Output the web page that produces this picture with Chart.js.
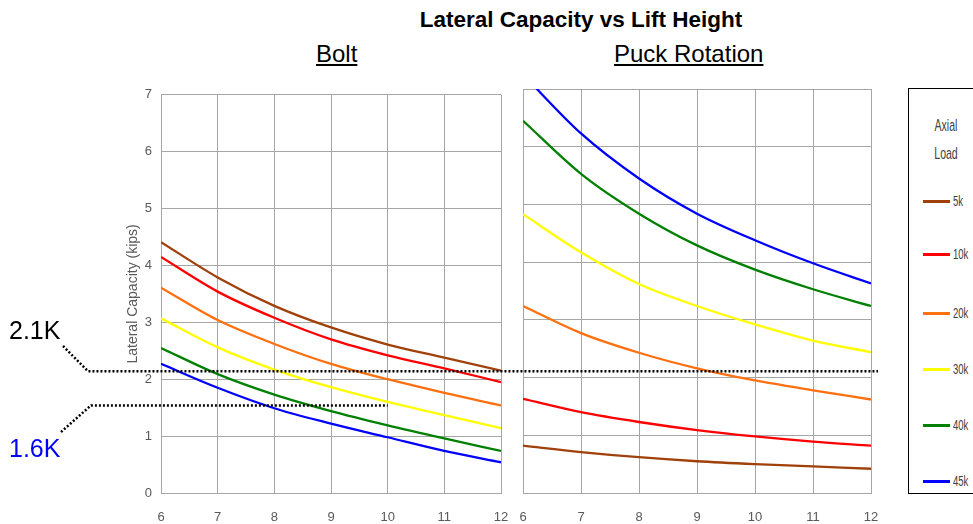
<!DOCTYPE html>
<html>
<head>
<meta charset="utf-8">
<script src="https://cdn.jsdelivr.net/npm/chart.js@4"></script>
<style>
  body { margin: 0; width: 973px; height: 524px; position: relative; overflow: hidden; background: #fff; font-family: "Liberation Sans", Arial, sans-serif; }
  .abs { position: absolute; }
  #title { left: 0; width: 1162px; top: 7px; text-align: center; font-weight: bold; font-size: 22.5px; color: #000; }
  .sub { top: 40px; font-size: 24px; text-decoration: underline; color: #000; }
  #legend { left: 908px; top: 88px; width: 90px; height: 406px; border: 1px solid #000; box-sizing: border-box; color: #404040; }
  #legend .head { position: absolute; left: 0; width: 74px; text-align: center; font-size: 17px; line-height: 20px; transform: scaleX(0.62); transform-origin: 37px 0; }
  #legend .item { position: absolute; left: 14px; height: 14px; }
  #legend .item span.sw { position: absolute; left: 0; top: 6px; width: 27px; height: 3px; }
  #legend .item span.tx { position: absolute; left: 30px; top: -1px; line-height: 16px; font-size: 14px; transform: scaleX(0.68); transform-origin: 0 0; white-space: nowrap; }
  .ann { font-size: 25px; left: 9px; }
</style>
</head>
<body>
<div id="title" class="abs">Lateral Capacity vs Lift Height</div>
<div class="abs sub" style="left:316px">Bolt</div>
<div class="abs sub" style="left:614px">Puck Rotation</div>
<canvas id="bolt" class="abs" style="left:100px;top:78px"></canvas>
<canvas id="puck" class="abs" style="left:515px;top:78px"></canvas>
<div id="legend" class="abs"></div>
<canvas id="overlay" class="abs" width="973" height="524" style="left:0;top:0;pointer-events:none"></canvas>
<div class="abs ann" style="top:316px;color:#000">2.1K</div>
<div class="abs ann" style="top:434px;color:#0000ff">1.6K</div>
<script>
const liftHeight = [6, 7, 8, 9, 10, 11, 12];
const loadNames = ["5k", "10k", "20k", "30k", "40k", "45k"];
const loadColors = ["#a0400a", "#ff0000", "#ff7010", "#ffff00", "#008000", "#0000ff"];

// Bolt, lateral capacity (kips)
const bolt5k  = [4.41, 3.79, 3.29, 2.91, 2.61, 2.38, 2.15];
const bolt10k = [4.15, 3.54, 3.08, 2.70, 2.42, 2.19, 1.95];
const bolt20k = [3.61, 3.04, 2.62, 2.27, 2.00, 1.76, 1.54];
const bolt30k = [3.07, 2.56, 2.17, 1.86, 1.60, 1.37, 1.14];
const bolt40k = [2.55, 2.09, 1.73, 1.44, 1.19, 0.96, 0.74];
const bolt45k = [2.27, 1.85, 1.49, 1.22, 0.98, 0.74, 0.54];

// Puck rotation, lateral capacity (kips)
const puck5k  = [0.82, 0.71, 0.62, 0.55, 0.50, 0.46, 0.42];
const puck10k = [1.63, 1.40, 1.23, 1.09, 0.98, 0.89, 0.82];
const puck20k = [3.24, 2.77, 2.43, 2.16, 1.95, 1.78, 1.62];
const puck30k = [4.83, 4.17, 3.62, 3.24, 2.92, 2.64, 2.44];
const puck40k = [6.45, 5.53, 4.84, 4.29, 3.87, 3.53, 3.24];
const puck45k = [7.25, 6.23, 5.45, 4.84, 4.38, 3.98, 3.63];

// reference lines (kips)
const refHigh = 2.14, refLow = 1.54;

const boltSeries = [bolt5k, bolt10k, bolt20k, bolt30k, bolt40k, bolt45k];
const puckSeries = [puck5k, puck10k, puck20k, puck30k, puck40k, puck45k];

const gridColor = "#a6a6a6";
const tickFont = { family: "'Liberation Sans Narrow', 'Liberation Sans'", size: 13 };

function makeChart(id, w, series, showY) {
  const c = document.getElementById(id);
  c.width = w; c.height = 446;
  c.style.width = w + "px"; c.style.height = "446px";
  return new Chart(c, {
    type: "line",
    data: {
      datasets: series.map((s, i) => ({
        label: loadNames[i],
        data: s.map((v, j) => ({ x: liftHeight[j], y: v })),
        borderColor: loadColors[i],
        borderWidth: 2.3,
        pointRadius: 0,
        cubicInterpolationMode: "monotone",
        fill: false,
      })),
    },
    options: {
      responsive: false,
      animation: false,
      layout: { padding: { top: 11, right: 9, left: 0, bottom: 0 } },
      plugins: { legend: { display: false }, tooltip: { enabled: false } },
      scales: {
        x: {
          type: "linear", min: 6, max: 12,
          ticks: { stepSize: 1, font: tickFont, color: "#595959", padding: 1, maxRotation: 0 },
          grid: { color: gridColor, drawTicks: true, tickLength: 16, tickColor: "rgba(0,0,0,0)", lineWidth: 1 },
          border: { color: gridColor },
          afterFit: (s) => { s.height = 31; },
        },
        y: {
          min: 0, max: 7,
          ticks: { stepSize: 1, display: showY, font: tickFont, color: "#595959", padding: 9 },
          grid: { color: gridColor, drawTicks: false, lineWidth: 1 },
          border: { color: gridColor },
          title: { display: showY, text: "Lateral Capacity (kips)", color: "#595959",
                   font: { family: "Liberation Sans", size: 14 }, padding: { top: 25, bottom: 0 } },
          afterFit: (s) => { s.width = showY ? 61 : 8; },
        },
      },
    },
  });
}

const boltChart = makeChart("bolt", 410, boltSeries, true);
const puckChart = makeChart("puck", 365, puckSeries, false);

// legend
const lg = document.getElementById("legend");
lg.innerHTML = '<div class="head" style="top:27px">Axial</div><div class="head" style="top:55px">Load</div>';
const itemTops = [105, 158, 217, 273, 329, 385];
loadNames.forEach((n, i) => {
  const d = document.createElement("div");
  d.className = "item";
  d.style.top = itemTops[i] + "px";
  d.innerHTML = '<span class="sw" style="background:' + loadColors[i] + '"></span><span class="tx">' + n + "</span>";
  lg.appendChild(d);
});

// dotted reference lines
const ov = document.getElementById("overlay").getContext("2d");
const yHigh = 78 + boltChart.scales.y.getPixelForValue(refHigh);
const yLow = 78 + boltChart.scales.y.getPixelForValue(refLow);
const xLowEnd = 100 + boltChart.scales.x.getPixelForValue(10);
const xHighEnd = 515 + puckChart.scales.x.getPixelForValue(12) + 7;
ov.strokeStyle = "#000";
ov.lineWidth = 2.5;
ov.setLineDash([2, 2]);
ov.beginPath();
ov.moveTo(63, 346); ov.lineTo(88, yHigh); ov.lineTo(xHighEnd, yHigh);
ov.stroke();
ov.beginPath();
ov.moveTo(61, 432); ov.lineTo(91, yLow); ov.lineTo(xLowEnd, yLow);
ov.stroke();
</script>
</body>
</html>
